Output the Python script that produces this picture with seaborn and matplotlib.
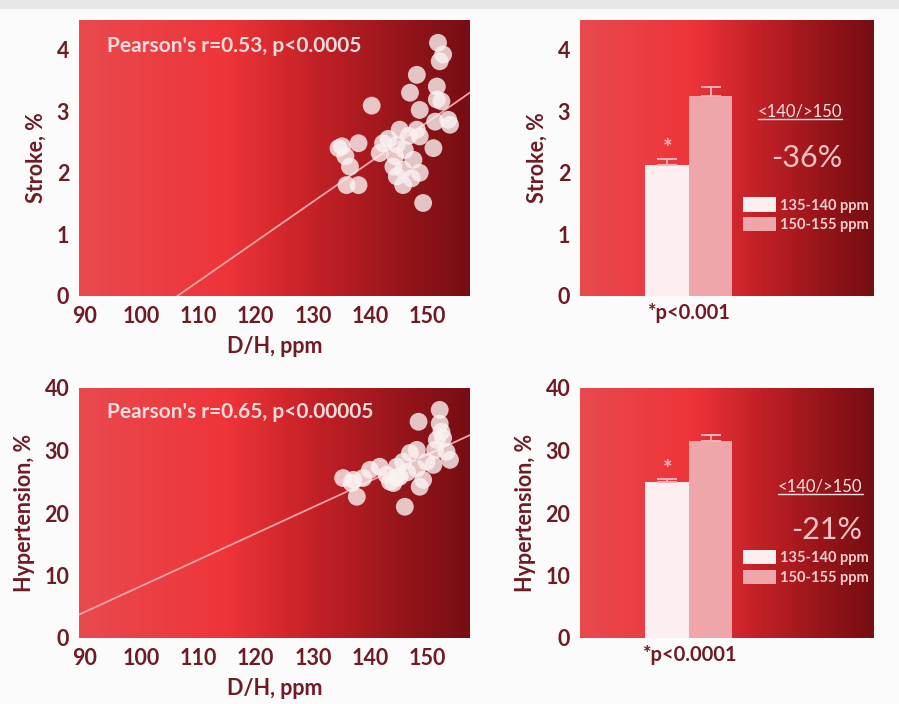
import numpy as np
import pandas as pd
import matplotlib
matplotlib.use("Agg")
import matplotlib.pyplot as plt
import seaborn as sns
from matplotlib.colors import LinearSegmentedColormap
from matplotlib.patches import Patch
from matplotlib.lines import Line2D

sns.set_theme(style="white")
plt.rcParams['font.family'] = ['Lato', 'DejaVu Sans']

# ---------------- data ----------------
stroke_dh = [151.9, 152.8, 152.2, 148.2, 147.0, 151.7, 140.3, 151.7, 152.5, 148.7,
             153.7, 151.4, 154.0, 145.2, 148.2, 148.7, 138.0, 142.3, 151.1, 135.1,
             144.7, 146.1, 141.7, 135.7, 144.4, 147.6, 136.5, 144.1, 145.8, 148.7,
             147.3, 144.7, 135.9, 138.0, 145.8, 149.3, 134.5, 143.2, 146.8]
stroke_pct = [4.11, 3.92, 3.81, 3.59, 3.30, 3.40, 3.09, 3.19, 3.16, 3.02,
              2.86, 2.83, 2.78, 2.70, 2.70, 2.59, 2.48, 2.48, 2.40, 2.43,
              2.46, 2.37, 2.32, 2.27, 2.27, 2.21, 2.10, 2.10, 2.05, 2.00,
              1.91, 1.94, 1.80, 1.80, 1.80, 1.51, 2.40, 2.55, 2.60]

htn_dh = [152.2, 148.5, 152.2, 152.5, 151.7, 151.4, 153.4, 154.0, 148.2, 147.0,
          145.8, 151.1, 144.7, 141.7, 140.0, 148.2, 142.9, 145.2, 135.3, 137.1,
          138.8, 149.3, 144.1, 148.7, 137.7, 146.1, 136.8, 144.7, 149.9, 146.5,
          143.5, 152.8]
htn_pct = [36.5, 34.6, 34.3, 33.0, 31.7, 30.1, 29.8, 28.5, 30.1, 29.6,
           28.2, 27.7, 27.4, 27.4, 26.9, 27.1, 26.1, 25.8, 25.6, 25.3,
           25.6, 25.3, 24.8, 24.2, 22.6, 21.0, 24.8, 25.6, 28.2, 26.5,
           25.0, 32.0]

# regression lines (point on line, slope)
stroke_fit_point = (106.3, 0.0)
stroke_fit_slope = 0.0645
htn_fit_point = (89.0, 3.7)
htn_fit_slope = 0.42

groups = ["135-140 ppm", "150-155 ppm"]
stroke_means = [2.12, 3.25]
stroke_err = [0.10, 0.15]
htn_means = [24.9, 31.6]
htn_err = [0.5, 0.9]

stroke_r_text = "Pearson's r=0.53, p<0.0005"
htn_r_text = "Pearson's r=0.65, p<0.00005"
stroke_p = "*p<0.001"
htn_p = "*p<0.0001"
stroke_change = "-36%"
htn_change = "-21%"
compare_label = "<140/>150"

x_ticks = [90, 100, 110, 120, 130, 140, 150]
stroke_yticks = [0, 1, 2, 3, 4]
htn_yticks = [0, 10, 20, 30, 40]

# ---------------- style ----------------
maroon = "#6e1b24"
pink_txt = "#f7cfd1"
bar_colors = ["#fdeef0", "#eea6aa"]
grad = LinearSegmentedColormap.from_list(
    "redgrad",
    [(0.0, (232/255, 74/255, 78/255)),
     (0.38, (238/255, 52/255, 57/255)),
     (0.62, (192/255, 32/255, 37/255)),
     (0.85, (145/255, 20/255, 25/255)),
     (1.0, (118/255, 14/255, 18/255))])

W, H = 899, 704
fig = plt.figure(figsize=(W / 100, H / 100), dpi=100, facecolor="#fbfbfb")
fig.patches.append(plt.Rectangle((0, 1 - 8 / H), 1, 8 / H, transform=fig.transFigure,
                                 color="#e4e6e8", zorder=-5))

def ax_rect(l, t, r, b):
    return [l / W, 1 - b / H, (r - l) / W, (b - t) / H]

ax_tl = fig.add_axes(ax_rect(79, 20, 470, 296))
ax_tr = fig.add_axes(ax_rect(580, 20, 873, 296))
ax_bl = fig.add_axes(ax_rect(79, 388, 470, 638))
ax_br = fig.add_axes(ax_rect(580, 388, 873, 638))

gradient = np.linspace(0, 1, 512).reshape(1, -1)
TICK_FS = 15.5
LABEL_FS = 15.5

def style_axes(ax):
    ax.imshow(gradient, aspect="auto", cmap=grad, extent=(0, 1, 0, 1),
              transform=ax.transAxes, zorder=0, interpolation="bilinear")
    for s in ax.spines.values():
        s.set_visible(False)
    ax.tick_params(axis="both", length=0, labelsize=TICK_FS, labelcolor=maroon)
    ax.tick_params(axis="y", pad=7)
    ax.tick_params(axis="x", pad=7)
    for lab in ax.get_xticklabels() + ax.get_yticklabels():
        lab.set_fontweight("bold")
    ax.grid(False)

# ---------------- scatter panels ----------------
def scatter_panel(ax, xs, ys, fit_pt, fit_slope, ylim, yticks, ylabel, rtext):
    df = pd.DataFrame({"dh": xs, "val": ys})
    sns.scatterplot(data=df, x="dh", y="val", ax=ax, s=165, color="#fbf2f2",
                    alpha=0.8, edgecolor="none", zorder=3)
    ax.axline(fit_pt, slope=fit_slope, color="#f4a3a6", lw=1.3, zorder=2)
    ax.set_xlim(89.1, 157.5)
    ax.set_ylim(*ylim)
    ax.set_xticks(x_ticks)
    ax.set_yticks(yticks)
    ax.set_xlabel("D/H, ppm", fontsize=LABEL_FS, fontweight="bold", color=maroon, labelpad=7)
    ax.set_ylabel(ylabel, fontsize=LABEL_FS, fontweight="bold", color=maroon, labelpad=7)
    style_axes(ax)
    ax.text(0.072, 0.905, rtext, transform=ax.transAxes, fontsize=15,
            fontweight="bold", color="#f9dcdc", va="center", ha="left", zorder=4)

scatter_panel(ax_tl, stroke_dh, stroke_pct, stroke_fit_point, stroke_fit_slope,
              (0, 4.48), stroke_yticks, "Stroke, %", stroke_r_text)
scatter_panel(ax_bl, htn_dh, htn_pct, htn_fit_point, htn_fit_slope,
              (0, 40), htn_yticks, "Hypertension, %", htn_r_text)

# ---------------- bar panels ----------------
underline_items = []

def bar_panel(ax, means, errs, ptext, ylim, yticks, ylabel, change, cmp_xy, chg_xy, leg_y):
    df = pd.DataFrame({"cat": [ptext] * len(groups), "group": groups, "val": means})
    sns.barplot(data=df, x="cat", y="val", hue="group", palette=bar_colors,
                ax=ax, errorbar=None, width=0.8, saturation=1, legend=False,
                linewidth=0, edgecolor="none", zorder=2)
    bars = [p for p in ax.patches][:len(groups)]
    for i, p in enumerate(bars):
        cx = p.get_x() + p.get_width() / 2
        ax.errorbar(cx, means[i], yerr=[[0], [errs[i]]], color="#f4b3b6",
                    capsize=7, capthick=1.4, elinewidth=1.4, zorder=3)
    p0 = bars[0]
    ax.text(p0.get_x() + p0.get_width() / 2, means[0] + errs[0] + ylim[1] * 0.038, "*",
            ha="center", va="center", fontsize=16, fontweight="bold", color="#f6b8bb",
            zorder=4)
    ax.set_xlim(-1.0, 1.69)
    ax.set_ylim(*ylim)
    ax.set_yticks(yticks)
    ax.set_xlabel("")
    ax.set_ylabel(ylabel, fontsize=LABEL_FS, fontweight="bold", color=maroon, labelpad=7)
    style_axes(ax)
    ax.tick_params(axis="x", labelsize=14.5, pad=5)
    t = ax.text(cmp_xy[0], cmp_xy[1], compare_label, transform=ax.transAxes,
                fontsize=12, color="#fbe3e3", ha="center", va="center", zorder=4)
    underline_items.append((ax, t))
    ax.text(chg_xy[0], chg_xy[1], change, transform=ax.transAxes, fontsize=22,
            fontweight="normal", color="#f6c4c6", ha="center", va="center", zorder=4)
    handles = [Patch(facecolor=c, edgecolor="none") for c in bar_colors]
    leg = ax.legend(handles, groups, loc="upper left", bbox_to_anchor=(0.556, leg_y),
                    frameon=False, fontsize=10.5, handlelength=2.3, handleheight=1.15,
                    handletextpad=0.25, labelspacing=0.3, borderpad=0, borderaxespad=0)
    for txt in leg.get_texts():
        txt.set_color(pink_txt)
        txt.set_fontweight("bold")

bar_panel(ax_tr, stroke_means, stroke_err, stroke_p, (0, 4.48), stroke_yticks,
          "Stroke, %", stroke_change, (0.75, 0.667), (0.775, 0.50), 0.357)
bar_panel(ax_br, htn_means, htn_err, htn_p, (0, 40), htn_yticks,
          "Hypertension, %", htn_change, (0.82, 0.604), (0.843, 0.432), 0.352)

# underline the comparison labels
fig.canvas.draw()
for ax, t in underline_items:
    bb = t.get_window_extent()
    inv = fig.transFigure.inverted()
    (x0, y0), (x1, _) = inv.transform([(bb.x0, bb.y0 + 1), (bb.x1, bb.y0 + 1)])
    fig.add_artist(Line2D([x0, x1], [y0, y0], transform=fig.transFigure,
                          color="#fbe3e3", lw=1.0, zorder=10))

fig.savefig("out.png", dpi=100, facecolor=fig.get_facecolor())
